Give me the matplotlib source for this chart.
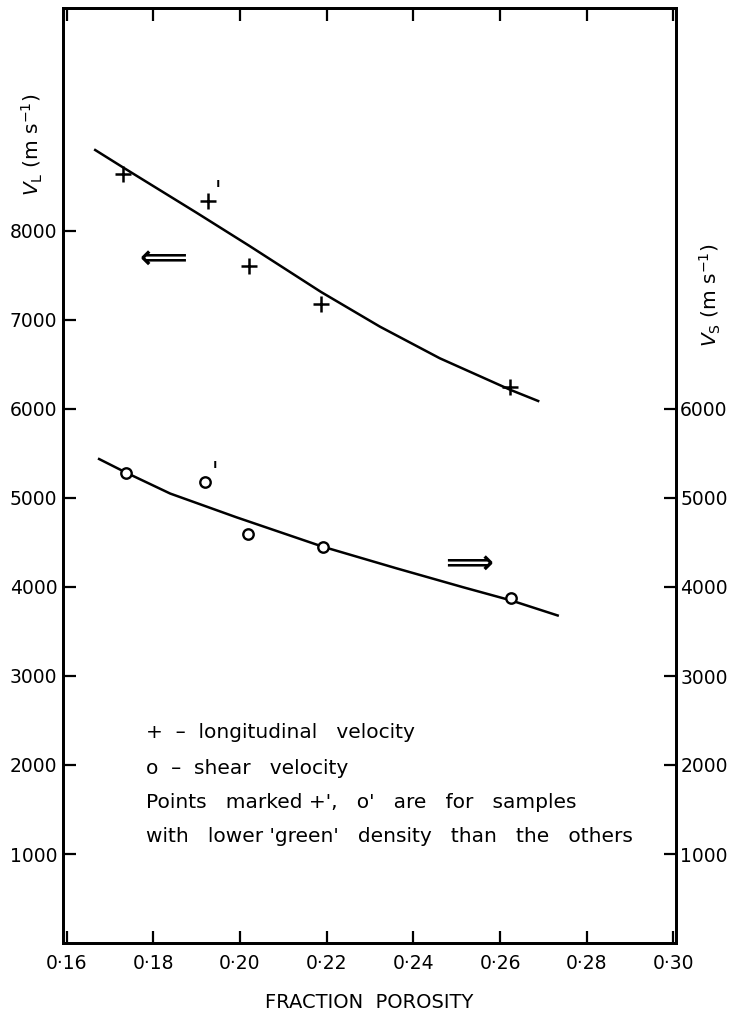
import matplotlib
matplotlib.use('Agg')
import matplotlib.pyplot as plt
from matplotlib.ticker import FuncFormatter

# longitudinal velocity points (left axis)
vl_porosity = [0.1730, 0.1926, 0.2021, 0.2187, 0.2624]
vl_values = [8640, 8337, 7607, 7180, 6247]

# shear velocity points (right axis)
vs_porosity = [0.1736, 0.1919, 0.2018, 0.2191, 0.2625]
vs_values = [5281, 5180, 4596, 4453, 3880]

# index of the low 'green' density sample (marked with a prime)
primed_idx = 1

# hand drawn fit curves
fit_l_x = [0.1666, 0.1730, 0.1900, 0.2021, 0.2187, 0.2323, 0.2461, 0.2624, 0.2688]
fit_l_y = [8910, 8715, 8205, 7835, 7315, 6925, 6570, 6215, 6090]
fit_s_x = [0.1675, 0.1739, 0.1839, 0.1992, 0.2191, 0.2361, 0.2515, 0.2625, 0.2733]
fit_s_y = [5438, 5281, 5050, 4783, 4453, 4210, 3997, 3850, 3680]

x_ticks = [0.16, 0.18, 0.20, 0.22, 0.24, 0.26, 0.28, 0.30]
left_ticks = [1000, 2000, 3000, 4000, 5000, 6000, 7000, 8000]
right_ticks = [1000, 2000, 3000, 4000, 5000, 6000]

notes = [
    "+  \u2013  longitudinal   velocity",
    "o  \u2013  shear   velocity",
    "Points   marked +',   o'   are   for   samples",
    "with   lower 'green'   density   than   the   others",
]

W, H = 738, 1019
fig = plt.figure(figsize=(W / 100, H / 100), dpi=100)
ax = fig.add_axes([63 / W, 1 - 943 / H, 613 / W, 934.5 / H])
ax2 = ax.twinx()

ax.set_xlim(0.15917, 0.3006)
ax.set_ylim(0, 10500)
ax2.set_ylim(0, 10500)

for a in (ax, ax2):
    for s in a.spines.values():
        s.set_linewidth(2.0)

ax.set_xticks(x_ticks)
ax.xaxis.set_major_formatter(FuncFormatter(lambda v, p: f"{v:.2f}".replace('.', '\u00b7')))
ax.set_yticks(left_ticks)
ax2.set_yticks(right_ticks)

ax.tick_params(axis='x', direction='in', length=9, width=1.6, top=True,
               labelsize=13.5, pad=8)
ax.tick_params(axis='y', direction='in', length=9, width=1.6, labelsize=13.5, pad=4)
ax2.tick_params(axis='y', direction='in', length=9, width=1.6, labelsize=13.5, pad=3)

# curves and points
ax.plot(fit_l_x, fit_l_y, color='black', lw=1.8, solid_joinstyle='round')
ax2.plot(fit_s_x, fit_s_y, color='black', lw=1.8, solid_joinstyle='round')
ax.plot(vl_porosity, vl_values, '+', color='black', ms=11, mew=1.8)
ax2.plot(vs_porosity, vs_values, 'o', ms=7.5, mfc='white', mec='black', mew=1.7, zorder=3)

ax.annotate("'", (vl_porosity[primed_idx], vl_values[primed_idx]), xytext=(7, 7),
            textcoords='offset points', fontsize=17, ha='center', va='center')
ax2.annotate("'", (vs_porosity[primed_idx], vs_values[primed_idx]), xytext=(7, 7),
             textcoords='offset points', fontsize=17, ha='center', va='center')

# direction arrows pointing at the relevant axis
ax.text(0.1823, 7697, "\u27f8", fontsize=24, fontweight='bold', ha='center', va='center')
ax2.text(0.2528, 4262, "\u27f9", fontsize=24, fontweight='bold', ha='center', va='center')

ax.set_xlabel("FRACTION  POROSITY", fontsize=14, labelpad=14)
fig.text(32 / W, 1 - 145 / H, r"$V_{\rm L}$ (m s$^{-1}$)", rotation=90,
         ha='center', va='center', fontsize=14.5)
fig.text(710 / W, 1 - 295 / H, r"$V_{\rm S}$ (m s$^{-1}$)", rotation=90,
         ha='center', va='center', fontsize=14.5)

note_y = [732, 768, 803, 837]
for txt, yy in zip(notes, note_y):
    fig.text(146 / W, 1 - yy / H, txt, fontsize=14.5, ha='left', va='center')

fig.savefig('out.png', dpi=100)
